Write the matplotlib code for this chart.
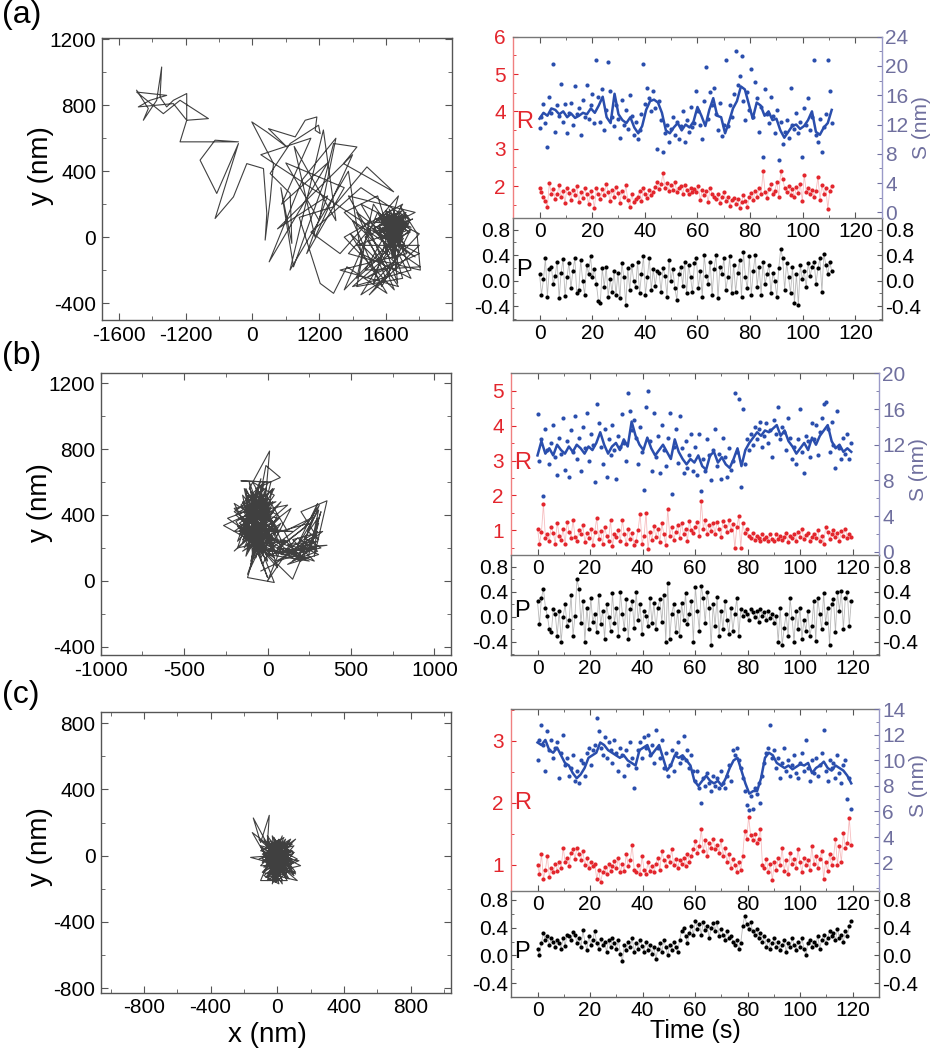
"""Single-particle tracks (left) with R, S and P time traces (right), panels (a)-(c)."""

import numpy as np
import matplotlib
matplotlib.use("Agg")
import matplotlib.pyplot as plt
from matplotlib.ticker import MultipleLocator, FormatStrFormatter

plt.rcParams["font.family"] = ["Liberation Sans", "DejaVu Sans"]
plt.rcParams["axes.unicode_minus"] = False

# ── Colours ───────────────────────────────────────────────────────────────────
RED = "#E3262D"
RED_SPINE = "#F08080"
BLUE = "#2A4EAD"
SLATE = "#6F6F9E"
SLATE_SPINE = "#9A9AC8"
TRACK = "#1e1e1e"

# ── (a) data ──────────────────────────────────────────────────────────────────
TRACK_A_X = [-1388, -1248, -1308, -1148, -1088, -1108, -1028, -948, -788, -788, -528, -868, -1068, -1388,
             -1028, -1228, -1368, -948, -788, -868, -728, -168, -448, -628, -428, -168, -448, -228, -68,
             132, 172, 152, 212, 252, -8, 172, 412, 192, 512, 632, 772, 752, 812, 792, 452, 212, 452, 472,
             340, 492, 852, 972, 1252, 1092, 1692, 1372, 972, 560, 812, 972, 1132, 1612, 1172, 1492, 2012,
             1972, 1772, 1892, 1300, 700, 1050, 1400, 1250, 1800, 1500, 1100, 1700, 1350, 2000, 1600,
             100, 700, 350, 900, 200, 600, 1000, 800, 400, 1100, 650, 900, 300, 1200, 750, 500, 1000, 850,
             450, 1150,
             1300, 1900, 1500, 1100, 1800, 1250, 2000, 1400, 1650, 1150, 1950, 1350, 1750, 1050, 1850,
             1450, 1250, 1900, 1550, 1200, 2010, 1350, 1800, 1100, 1700, 1400, 1950, 1250, 1600, 1300,
             1850, 1500, 1150, 1750, 1450, 2000, 1300, 1650, 1200, 1900,
             1640, 1780, 1560, 1830, 1700, 1600, 1760, 1500, 1720, 1650, 1880, 1620, 1790, 1540, 1710,
             1820, 1580, 1690, 1460, 1760, 1680, 1640, 1800, 1570, 1730, 1920, 1620, 1700, 1530, 1780,
             1660, 1840, 1590, 1720, 1650, 1890, 1610, 1750, 1480, 1700, 1810, 1630, 1770, 1720, 1690,
             1580, 1860, 1660, 1740, 1520, 1740, 1680,
             1610, 1740, 1560, 1800, 1650, 1510, 1770, 1690, 1590, 1850, 1630, 1720, 1550, 1790, 1670,
             1440, 1750, 1700, 1600, 1870, 1570, 1730, 1650, 1810, 1530, 1690, 1780, 1620, 1480, 1840,
             1680, 1580, 1750, 1660, 1830, 1540, 1700, 1610, 1790, 1650, 1720, 1560, 1900, 1690, 1620,
             1760, 1520, 1810, 1670, 1700]
TRACK_A_Y = [891, 780, 709, 830, 1032, 850, 790, 830, 871, 709, 719, 830, 749, 880,
             860, 830, 790, 810, 709, 578, 578, 578, 588, 467, 265, 568, 113, 244, 446,
             416, 143, -18, 224, 446, 699, 638, 547, 658, 608, 709, 729, 648, 628, 679, 568, 386, 265, -38,
             300, -180, 325, 568, 547, 446, 275, 426, 184, 120, -281, -341, -180, -341, 22, -139, -200,
             22, 184, 103, 300, 30, -100, 100, -300, -250, 250, 150, -150, -250, -100, 0,
             500, 600, 200, 450, -150, 350, 600, 100, 450, 300, -100, 250, 50, 500, 0, 550, 100, 650,
             -200, 400,
             -100, -250, 150, -320, 50, -50, -50, -350, -200, 250, 150, 0, -300, -200, -100,
             200, -250, 50, -300, 100, -180, -200, 200, 0, -320, 50, -120, 150, -250, -350,
             100, -150, -100, 250, -280, 20, 200, -100, -300, -200,
             120, 40, 80, 130, -20, 150, 60, 20, 110, -60, 90, 30, 160, 100, 0,
             -40, 60, 140, 90, 80, -100, 170, 20, -10, 70, 110, 40, -60, 130, 100,
             10, 150, 70, -120, 90, 30, -30, 120, 60, 30, -80, 100, -20, -200, 50,
             110, 70, -40, 90, 40, -280, 20,
             80, 20, 130, 110, -30, 70, 150, 60, -10, 40, 140, -70, 100, 70, -80,
             50, 130, 0, 160, 80, 30, 100, -50, -10, 120, 170, 10, 60, 110, 120,
             -130, 90, 50, 130, -60, 40, 80, -70, 140, 20, -160, 60, 60, 110, -10,
             -90, 70, 90, 40, -30]

S_A = [11.5, 13.0, 14.8, 12.2, 9.0, 15.8, 13.6, 20.2, 11.0, 14.6,
       13.2, 17.6, 12.4, 14.8, 10.8, 13.6, 15.0, 12.0, 17.2, 13.4,
       14.2, 10.6, 15.4, 13.0, 17.4, 12.8, 14.6, 16.2, 12.2, 20.8,
       15.8, 12.4, 16.8, 11.2, 14.0, 20.6, 16.6, 13.0, 11.8, 14.6,
       12.8, 10.2, 15.4, 12.0, 14.0, 11.4, 16.0, 13.2, 10.6, 12.4,
       10.0, 11.2, 13.4, 20.2, 14.8, 17.0, 15.6, 13.8, 16.6, 14.2,
       8.6, 15.2, 12.6, 8.2, 10.8, 12.0, 9.6, 11.4, 13.0, 10.6,
       12.4, 10.0, 11.8, 13.8, 9.6, 12.6, 11.0, 14.4, 11.6, 12.2,
       16.6, 13.8, 12.0, 10.0, 15.2, 19.8, 12.8, 16.4, 14.6, 17.0,
       13.4, 11.2, 15.0, 10.4, 12.0, 20.8, 11.8, 14.6, 13.0, 16.2,
       22.0, 17.4, 18.6, 21.4, 15.2, 12.6, 16.4, 14.0, 19.6, 13.0,
       17.8, 15.6, 11.0, 14.4, 7.6, 16.8, 13.4, 12.2, 15.8, 13.2,
       10.8, 14.0, 7.2, 12.4, 9.4, 11.0, 12.6, 10.2, 17.0, 12.0,
       11.4, 13.6, 10.8, 12.4, 7.6, 14.2, 12.0, 15.6, 11.2, 13.0,
       20.8, 10.6, 9.6, 12.8, 8.2, 11.6, 13.4, 20.8, 16.6, 12.2]
S_LINE_A = [12.8, 13.6, 13.2, 14.2, 14.0, 13.4, 13.8, 13.0, 13.5, 12.9, 13.2, 13.6, 13.4, 14.2, 13.6,
            14.6, 15.8, 13.0, 12.2, 16.2, 13.4, 12.6, 12.2, 13.0, 11.6, 10.8, 11.8, 14.0, 15.2, 15.4,
            15.0, 13.6, 11.2, 10.8, 11.6, 12.2, 11.2, 12.0, 11.6, 12.4, 14.4, 13.2, 11.8, 14.0, 15.6,
            13.2, 13.0, 10.8, 12.4, 14.2, 15.2, 17.2, 16.8, 14.8, 12.8, 15.0, 14.6, 13.2, 13.8, 12.6,
            12.8, 11.2, 10.2, 11.0, 11.8, 12.0, 11.4, 11.8, 12.6, 13.8, 11.0, 10.6, 11.6, 12.2, 14.0]
R_A = [1.95, 1.85, 1.72, 1.60, 1.45, 2.08, 1.80, 1.92, 1.65, 1.78,
       2.02, 1.70, 1.88, 1.55, 1.95, 1.82, 1.62, 1.90, 1.75, 2.00,
       1.58, 1.85, 1.68, 1.94, 1.78, 1.52, 1.88, 1.72, 1.42, 1.96,
       1.80, 1.65, 1.92, 1.75, 2.05, 1.85, 1.60, 1.90, 1.72, 1.98,
       1.82, 1.55, 1.88, 1.70, 2.02, 1.64, 1.45, 1.78, 1.58, 1.66,
       1.72, 1.86, 1.60, 1.95, 1.78, 1.68, 1.90, 1.75, 1.85, 1.98,
       2.10, 1.92, 2.05, 2.35, 1.95, 2.08, 1.88, 2.02, 1.90, 2.12,
       1.85, 1.95, 2.00, 1.80, 2.04, 1.90, 1.78, 1.96, 1.84, 1.92,
       1.84, 2.00, 1.62, 1.90, 1.75, 1.86, 1.58, 1.95, 1.80, 1.70,
       1.65, 1.78, 1.55, 1.70, 1.85, 1.60, 1.72, 1.48, 1.62, 1.68,
       1.52, 1.66, 1.42, 1.58, 1.75, 1.60, 1.45, 1.70, 1.82, 1.64,
       1.88, 1.72, 1.96, 1.78, 2.40, 1.85, 1.68, 1.92, 2.05, 1.78,
       1.88, 2.10, 1.72, 2.40, 2.20, 1.95, 1.85, 2.00, 1.76, 1.92,
       1.70, 1.98, 1.82, 2.05, 1.60, 2.30, 1.85, 1.95, 1.78, 1.90,
       1.72, 1.88, 2.25, 1.64, 2.02, 1.80, 1.94, 1.40, 1.86, 2.00]
P_A = [0.10, -0.22, 0.02, 0.35, -0.25, 0.18, 0.22, -0.05, 0.08, 0.30,
       -0.28, 0.12, 0.34, -0.24, 0.05, 0.28, -0.12, 0.15, 0.35, -0.20,
       -0.15, 0.32, 0.00, -0.22, 0.25, 0.10, 0.38, 0.05, 0.18, -0.05,
       -0.32, -0.35, 0.20, -0.10, 0.22, -0.25, 0.02, -0.18, 0.15, -0.22,
       0.12, -0.28, 0.28, 0.05, -0.38, 0.20, -0.15, 0.25, 0.00, -0.10,
       0.30, -0.20, 0.10, 0.38, -0.22, 0.05, 0.35, -0.15, 0.18, -0.08,
       0.15, 0.12, -0.18, 0.20, 0.08, -0.25, 0.32, 0.00, 0.18, -0.12,
       -0.30, 0.10, 0.22, -0.08, 0.30, -0.20, 0.25, 0.05, -0.18, 0.28,
       0.35, -0.12, 0.15, -0.25, 0.40, 0.08, -0.05, 0.30, -0.22, 0.18,
       0.40, -0.28, 0.22, 0.10, 0.35, -0.15, 0.05, 0.38, -0.20, 0.25,
       -0.18, 0.12, 0.32, -0.25, 0.45, 0.05, -0.12, 0.38, -0.22, 0.15,
       0.40, -0.10, 0.22, -0.22, 0.30, -0.05, 0.10, 0.25, -0.20, 0.12,
       0.00, -0.25, 0.20, 0.50, 0.35, -0.15, 0.28, 0.05, -0.20, 0.22,
       -0.35, 0.10, -0.38, 0.25, 0.02, 0.15, -0.10, 0.28, 0.08, 0.22,
       0.30, -0.05, 0.20, 0.35, -0.18, 0.42, 0.25, 0.10, 0.30, 0.15]
T_END_A = 111.0

# ── (b) data ──────────────────────────────────────────────────────────────────
TRACK_B_X = [-60, -120, -20, -150, 40, -90, 10, -180, -40, 60, -130, -10, -200, 30, -100, 20, -160, 0,
             -70, 80, -140, -30, -240, -60, 40, -110, 12, -20, -170, 90, -50, -130, 0, -200, 120, -80,
             -264, -20, -150, 60, -100, -40, -180, 30, -120, 0, -70, 76, -10, -60, -160, 20, -90, 140,
             -30, -140, 40, -110, 0, -60, -200, 60, -80, -20, -120, 100, -40, -170, 10, -90, -130, 30,
             -60, -100, -20, 120, -150, 0, 60, -30, -120, 40, -80, 150, 80, 0, 100, 200, -40, 150, 220,
             60, 250, 0, 280, 120, 306, 180, 300, 240, 306, 200, 356, 280, 300, 220, 320, 150, 306, 260,
             356, 100, 300, 200, 0, -100, 250, 50, -60, 150, -120, 40, -80, 120, -20, -150, 80, -50,
             -100, -30, -170, 20, -140, -60, 10, -190, -80, 40, -120, -20, -160, 0, -100, 60, -200, -40,
             -130, 30, -70, -150, 10, -90, -180, 50, -50, -120, -10, -160, 20, -80, -140, 40, -30, -110,
             -60, 0, -170, 70, -90, -130, 30, -40, -190, -20, -100, 80, -60, -150, 10, -80, -120, -30,
             -200, 50, -70, -140, 0, -50,
             100, 200, 50, 260, 150, 300, 180, 80, 240, 306, 270, 320, 250, 120, 300, 200, 330, 150,
             280, 60, 220, 310, 180, 100, 260, 0, 140, 290, 40, -40]
TRACK_B_Y = [380, 450, 300, 250, 520, 600, 420, 330, 180, 400, 500, 560, 420, 260, 120, 600, 607, 600,
             330, 480, 200, 460, 380, 250, 340, 560, 788, 420, 300, 230, 520, 150, 380, 181, 460, 420,
             336, 200, 480, 150, 350, 620, 240, 480, 40, 300, 560, 627, 700, 440, 380, 160, 260, 440,
             100, 420, 560, 300, 20, 190, 470, 300, 500, 380, 220, 160, 280, 350, 470, 160, 560, 220,
             400, 100, 540, 300, 320, 150, 80, 350, 20, -10, 300, 200, 120, 0, 250, 150, 200, 10, 180,
             200, 120, 160, 200, 100, 160, 220, 470, 300, 250, 420, 486, 150, 380, 260, 200, 160, 430, 210,
             216, 180, 300, 120, 200, 250, 350, 180, 320, 300, 300, 140, 220, 240, 260, 180, 350, 150,
             420, 520, 280, 350, 560, 200, 480, 400, 300, 430, 180, 600, 460, 250, 540, 320, 300, 420,
             360, 560, 140, 520, 320, 470, 200, 250, 580, 400, 180, 330, 440, 520, 260, 200, 380, 600,
             280, 500, 420, 380, 220, 480, 300, 140, 360, 460, 320, 200, 560, 230, 400, 380, 520, 240,
             440, 480, 420, 300, 120, 340,
             200, 160, 120, 230, 120, 180, 260, 160, 140, 350, 260, 420, 180, 220, 240, 200, 300, 250,
             120, 200, 320, 460, 140, 300, 380, 180, 180, 280, 100, 60]

S_B = [15.4, 10.2, 12.6, 6.2, 13.8, 11.4, 9.8, 12.2, 14.2, 10.6,
       8.6, 12.8, 11.0, 15.0, 9.2, 12.4, 8.4, 13.6, 11.2, 15.2,
       10.4, 12.8, 9.0, 14.0, 11.6, 15.6, 10.2, 13.2, 12.0, 7.8,
       16.6, 14.4, 11.8, 9.8, 13.8, 8.4, 12.6, 10.8, 14.2, 11.4,
       8.2, 13.0, 11.8, 15.4, 12.2, 10.2, 17.8, 15.8, 13.6, 14.8,
       12.8, 9.8, 14.0, 11.2, 6.9, 16.2, 18.0, 12.4, 9.0, 15.6,
       10.6, 13.0, 8.8, 14.2, 11.4, 9.6, 12.8, 15.6, 6.5, 11.8,
       13.8, 10.0, 15.2, 11.6, 8.8, 12.4, 9.4, 10.8, 13.2, 9.0,
       11.8, 8.6, 13.2, 6.8, 10.4, 9.0, 12.6, 10.8, 8.0, 11.4,
       13.8, 9.6, 11.0, 8.2, 12.8, 10.6, 8.4, 11.6, 9.2, 10.2,
       17.8, 11.2, 17.1, 7.3, 16.0, 9.8, 12.6, 11.4, 13.2, 12.0,
       14.0, 12.6, 13.8, 14.6, 11.8, 13.0, 14.4, 12.2, 13.6, 10.6,
       14.8, 13.2, 16.2, 12.6, 14.0, 13.4, 11.4, 15.0, 12.8, 10.4,
       11.8, 9.8, 12.6, 16.0, 11.2, 8.8, 13.0, 12.4, 10.6, 14.4,
       12.6, 14.2, 10.8, 13.4, 15.0, 16.6, 16.8, 13.8, 11.2, 14.6,
       12.0, 9.4, 15.8, 11.6, 10.4, 12.8, 11.0, 13.2, 10.4, 12.2]
S_LINE_B = [10.8, 12.4, 11.0, 11.6, 10.8, 12.0, 11.4, 11.0, 11.8, 11.2, 12.0, 11.6, 11.0, 11.8, 11.4,
            12.2, 13.4, 12.0, 11.0, 11.8, 12.2, 11.4, 12.6, 11.8, 14.6, 13.0, 12.0, 11.4, 12.8, 11.6,
            10.8, 11.4, 12.0, 11.2, 10.4, 12.6, 11.2, 10.4, 9.8, 10.4, 10.0, 10.8, 9.6, 9.2, 10.8,
            11.2, 10.0, 10.6, 9.8, 9.4, 10.4, 11.6, 9.6, 11.4, 12.2, 12.8, 13.4, 13.0, 13.6, 13.4,
            13.8, 14.2, 13.0, 13.6, 12.4, 11.8, 11.0, 11.6, 12.2, 11.4, 12.8, 12.0, 13.0, 13.6, 14.2,
            12.4, 11.6, 12.0, 11.2, 11.6, 11.2]
R_B = [1.05, 0.62, 0.95, 1.75, 0.78, 0.88, 0.70, 1.10, 0.92, 0.62,
       1.22, 0.85, 0.72, 1.05, 0.60, 1.25, 0.95, 0.78, 1.30, 0.82,
       0.70, 1.00, 0.88, 1.15, 0.65, 0.92, 0.78, 1.05, 0.58, 0.95,
       1.35, 0.75, 0.98, 0.62, 1.10, 0.85, 0.70, 1.30, 0.55, 0.90,
       0.82, 1.02, 0.68, 1.30, 0.88, 0.60, 1.05, 0.75, 0.92, 0.58,
       0.70, 1.02, 1.48, 0.62, 0.85, 1.50, 0.45, 0.95, 0.72, 1.12,
       0.80, 1.05, 0.65, 1.20, 0.90, 0.58, 1.62, 0.85, 1.10, 0.72,
       0.95, 1.15, 0.78, 1.22, 0.88, 1.05, 0.70, 1.28, 1.00, 0.92,
       1.10, 1.25, 0.85, 1.85, 1.05, 1.30, 0.88, 1.15, 0.98, 1.20,
       0.90, 1.25, 1.05, 0.82, 1.28, 1.12, 0.95, 1.30, 1.02, 1.18,
       0.48, 1.10, 1.40, 0.50, 1.20, 0.92, 1.05, 0.85, 0.78, 0.92,
       0.72, 0.85, 0.78, 0.68, 0.90, 0.75, 0.82, 0.70, 0.88, 0.76,
       0.68, 0.90, 0.75, 0.85, 0.72, 0.80, 0.92, 0.66, 0.85, 0.78,
       0.88, 0.70, 0.95, 0.82, 1.05, 0.74, 0.86, 0.92, 0.68, 0.80,
       0.90, 0.78, 1.02, 0.70, 0.85, 0.62, 1.08, 0.95, 0.75, 0.88,
       1.02, 0.80, 0.92, 0.70, 0.98, 0.85, 1.05, 0.78, 0.90, 0.82]
P_B = [0.25, -0.12, 0.30, 0.45, 0.15, 0.02, -0.20, -0.25, 0.12, 0.05,
       -0.30, 0.10, -0.40, 0.00, 0.20, -0.15, -0.05, 0.35, -0.30, 0.02,
       0.60, 0.45, -0.10, 0.25, -0.40, 0.15, -0.20, 0.30, -0.08, 0.05,
       -0.25, 0.35, -0.12, 0.10, -0.35, 0.20, 0.00, -0.22, 0.38, -0.10,
       0.15, -0.30, 0.40, 0.05, -0.20, 0.28, -0.35, 0.12, 0.25, -0.18,
       0.40, -0.05, 0.20, -0.28, 0.10, 0.02, -0.15, 0.30, -0.10, 0.22,
       -0.20, 0.15, 0.28, -0.08, 0.35, -0.40, 0.55, -0.35, 0.05, 0.20,
       -0.25, 0.10, -0.30, 0.22, -0.05, 0.38, -0.12, 0.05, 0.25, -0.40,
       0.48, 0.10, -0.22, 0.50, 0.30, -0.10, 0.40, 0.15, -0.45, 0.20,
       -0.15, 0.32, -0.30, 0.10, -0.20, 0.25, -0.05, -0.28, 0.15, -0.22,
       0.05, 0.30, -0.30, 0.12, 0.02, 0.10, 0.05, -0.05, 0.12, 0.08,
       0.00, 0.10, -0.08, 0.12, 0.02, 0.08, -0.05, 0.10, -0.02, 0.05,
       -0.10, 0.02, -0.40, 0.15, -0.45, -0.18, 0.05, -0.30, 0.30, -0.02,
       -0.40, 0.10, -0.20, 0.15, -0.35, -0.05, -0.22, 0.10, -0.30, -0.15,
       0.25, -0.38, 0.30, 0.05, -0.20, 0.38, -0.10, 0.15, -0.45, 0.20,
       0.28, -0.25, 0.40, 0.10, 0.42, -0.20, 0.30, 0.40, -0.15, 0.25]
T_END_B = 119.5

# ── (c) data ──────────────────────────────────────────────────────────────────
TRACK_C_X = [-20, -80, 10, -60, 40, -40, 60, -100, 0, -30, 80, -150, -70, 30, -144, -100, -48, -60, 20,
             -90, 50, -20, 100, -50, 10, -80, 40, -30, 120, -10, 70, -110, 0, -40, 90, -60, 20, -20, 110,
             -70, 30, -10, 60, -100, 0, -50, 80, -160, 20, -30, 50, -80, 10, -40, 130, -20, 40, -60, 90,
             0, -30, 60, -90, 20, -10, 100, -50, 30, -70, 10, 140, -40, 0, -20, 70, -110, 20, -30, 50,
             -60, 10, 110, -80, 0, -20, 40, -40, 80, -10, 20, -70, 60, -30, 0, 100, -50, 30, -20, 120,
             -90, 10, -10,
             -10, 40, -50, 20, -70, 60, -30, 10, -60, 50, -20, 80, -90, 0, 30, -40, 70, -80, 10, -30,
             100, -60, 20, -10, 60, -100, 40, -50, 0, 90, -70, 30, -20, 50, -40, 110, -90, 10, -30, 70,
             -60, 0, 40, -80, 20, -10, 60, -50, 30, -20, 90, -70, 10, -40, 50, -100, 0, 70, -30, 20,
             -60, 40, -10, 80, -80, 30, -20, 100, -50, 0]
TRACK_C_Y = [40, 100, -60, -20, 80, -120, 20, 60, -150, 120, -40, 140, 0, -100, 228, 80, 244, 60, 0,
             -40, 100, -80, 60, 20, -170, -120, -20, 60, -20, -100, 40, -20, 30, -60, -80, 120, -130, 10, 100,
             -80, 50, -40, -150, -150, 90, -30, 10, -10, -60, -140, -30, 40, 60, -100, -30, 0, -90, -60, 30,
             -20, -170, 70, 10, -40, 80, -120, -10, -10, 90, -90, -60, 30, -130, -50, -60, 100, 20, -20, -110,
             -130, 40, -100, -60, -70, 100, 0, -80, -80, -160, 80, -30, -10, 20, -110, 20, 50, -150, -30, -150,
             -100, 10, -60,
             30, -50, 60, -100, -40, 40, -90, 70, 0, -130, 110, -60, 50, -140, 30, -20, 90, -100, -30, 80,
             -40, -150, 50, -110, -10, 30, 110, -60, 0, 70, 70, -80, -160, 20, 40, -110, -20, 100, -40, -140,
             100, -70, 60, -70, -10, 60, -100, -110, 120, 0, -20, -130, -50, 90, -70, -60, 40, 10, -120, 90,
             30, -30, -80, 100, 0, -170, 70, 20, -80, -20]

S_C = [10.0, 11.6, 12.8, 11.2, 9.2, 12.3, 10.8, 11.6, 10.2, 11.0,
       11.4, 8.6, 10.6, 12.0, 9.6, 10.2, 8.8, 9.4, 10.4, 8.4,
       9.2, 8.2, 10.0, 9.8, 8.8, 10.6, 11.0, 9.6, 10.8, 11.2,
       13.3, 12.3, 11.0, 10.4, 11.8, 10.2, 11.4, 10.8, 9.8, 11.6,
       10.6, 9.2, 11.0, 10.4, 8.8, 10.8, 9.6, 11.4, 10.2, 7.8,
       9.4, 10.8, 11.4, 10.2, 11.8, 11.0, 12.0, 10.4, 11.2, 9.8,
       12.4, 11.0, 10.2, 11.6, 9.4, 10.6, 8.8, 9.6, 10.8, 9.2,
       10.6, 11.4, 9.8, 10.2, 11.9, 10.0, 10.8, 9.4, 10.4, 9.2,
       8.4, 9.2, 7.8, 6.7, 8.6, 8.0, 9.0, 8.2, 7.6, 8.8,
       8.0, 8.6, 7.8, 9.2, 8.2, 7.8, 8.8, 9.6, 8.4, 10.8,
       10.4, 11.0, 10.0, 9.4, 8.6, 7.6, 6.5, 6.1, 7.2, 6.2,
       7.8, 7.4, 8.2, 6.7, 8.8, 9.8, 10.6, 11.0, 12.8, 10.2,
       10.8, 9.4, 10.2, 8.6, 9.8, 11.0, 9.2, 10.0, 8.8, 9.6,
       10.4, 9.0, 8.6, 9.8, 10.6, 9.2, 11.6, 9.4, 8.4, 10.0,
       9.0, 10.2, 8.8, 9.6, 10.6, 12.4, 9.2, 8.4, 10.0, 9.4,
       9.8, 8.6, 10.4, 9.0, 8.2, 9.6, 10.0, 7.0, 8.6, 6.2]
S_LINE_C = [11.4, 11.2, 11.6, 10.8, 10.6, 11.0, 10.4, 9.8, 9.6, 9.0, 8.6, 8.9, 9.4, 10.2, 10.4,
            10.6, 11.4, 11.2, 10.8, 10.6, 10.4, 10.2, 10.4, 10.0, 9.8, 9.6, 10.8, 11.0, 11.2, 10.4,
            10.8, 11.2, 10.2, 9.2, 9.6, 10.4, 10.2, 10.4, 10.0, 9.6, 8.4, 8.0, 8.4, 8.8, 8.4,
            8.2, 8.4, 8.0, 8.6, 9.4, 10.0, 10.2, 9.2, 8.2, 7.4, 7.6, 7.6, 8.6, 10.2, 10.6,
            10.4, 9.8, 9.6, 9.4, 9.6, 9.3, 9.5, 9.7, 9.6, 9.8, 9.0, 9.4, 9.6, 9.9, 9.4,
            9.2, 9.6, 9.4, 9.2, 8.8, 8.2]
R_C = [1.00, 0.85, 1.18, 0.78, 0.92, 1.15, 0.80, 0.95, 0.88, 1.02,
       0.90, 1.05, 0.95, 1.28, 1.05, 1.12, 0.98, 1.20, 1.25, 1.10,
       1.28, 1.18, 1.08, 1.22, 1.00, 1.12, 0.95, 1.05, 0.98, 1.02,
       0.78, 0.92, 0.72, 0.88, 0.96, 0.85, 1.02, 0.90, 0.98, 1.06,
       0.95, 1.12, 0.88, 1.02, 0.90, 1.18, 0.98, 1.08, 1.32, 0.92,
       0.88, 1.00, 0.85, 1.15, 0.92, 0.86, 1.05, 0.90, 0.98, 0.88,
       1.02, 1.12, 0.92, 1.22, 1.08, 0.98, 1.15, 1.05, 1.25, 1.00,
       1.10, 0.95, 1.08, 1.02, 1.12, 0.98, 1.18, 1.05, 1.15, 1.25,
       1.38, 1.20, 1.30, 1.58, 1.22, 1.40, 1.15, 1.35, 1.28, 1.42,
       1.25, 1.32, 1.20, 1.40, 1.15, 1.28, 1.05, 1.18, 0.95, 1.10,
       1.00, 0.88, 1.05, 0.92, 1.15, 1.55, 1.42, 1.78, 1.48, 1.40,
       1.50, 1.35, 1.42, 1.58, 1.00, 0.95, 1.10, 0.88, 1.02, 0.75,
       1.05, 0.92, 1.12, 1.00, 1.28, 0.90, 1.08, 0.85, 1.20, 1.02,
       1.10, 0.95, 1.25, 1.05, 0.88, 1.12, 1.00, 1.08, 0.92, 1.30,
       1.02, 1.15, 0.95, 1.10, 1.22, 0.78, 1.05, 0.90, 1.18, 1.00,
       1.12, 1.42, 1.00, 1.30, 1.05, 1.52, 1.28, 1.35, 1.75, 1.32]
P_C = [0.10, 0.00, 0.18, 0.32, 0.22, 0.28, 0.15, 0.25, 0.20, 0.12,
       0.22, 0.18, 0.10, 0.25, 0.14, 0.30, 0.28, 0.22, 0.34, 0.30,
       0.18, 0.25, 0.12, 0.36, 0.20, 0.08, 0.28, 0.15, 0.22, 0.35,
       0.18, 0.10, 0.24, 0.15, 0.20, 0.05, 0.22, 0.12, 0.25, 0.18,
       0.10, 0.22, 0.02, -0.08, 0.15, 0.08, 0.20, 0.12, 0.25, 0.05,
       0.18, 0.10, 0.22, 0.14, 0.05, 0.20, 0.08, 0.15, 0.02, 0.12,
       -0.05, 0.10, 0.18, 0.05, 0.22, 0.12, 0.00, 0.15, 0.08, 0.20,
       0.12, 0.05, 0.22, 0.35, 0.40, 0.28, 0.18, 0.32, 0.42, 0.30,
       0.50, 0.38, 0.45, 0.30, 0.48, 0.36, 0.42, 0.25, 0.40, 0.46,
       0.35, 0.48, 0.28, 0.38, 0.30, 0.22, 0.35, 0.25, 0.28, 0.20,
       0.15, 0.22, 0.10, 0.18, 0.42, 0.57, 0.45, 0.38, 0.48, 0.35,
       0.30, 0.38, 0.25, 0.32, 0.20, 0.28, 0.12, 0.22, 0.10, 0.18,
       0.25, 0.12, 0.20, 0.08, 0.15, 0.22, 0.05, 0.18, 0.12, 0.25,
       0.15, 0.08, 0.20, 0.12, 0.25, 0.10, 0.00, 0.18, 0.22, 0.12,
       0.20, 0.15, 0.28, 0.10, 0.22, 0.30, 0.18, 0.25, 0.35, 0.28,
       0.32, 0.22, 0.38, 0.25, 0.30, 0.20, 0.35, 0.28, 0.42, 0.50]
T_END_C = 119.5

TICK_FS = 15


def style_box(ax, color="#555555"):
    for sp in ax.spines.values():
        sp.set_color(color)
        sp.set_linewidth(1.0)


def draw_track(ax, xs, ys, xlim, ylim, xticks, xminor, yticks, yminor, xticklabels=None, ylabel_y=0.53):
    ax.plot(xs, ys, color=TRACK, lw=0.8, alpha=0.85)
    ax.set_xlim(xlim)
    ax.set_ylim(ylim)
    ax.set_xticks(xticks)
    if xticklabels is not None:
        ax.set_xticklabels(xticklabels)
    ax.set_yticks(yticks)
    ax.xaxis.set_minor_locator(MultipleLocator(xminor))
    ax.yaxis.set_minor_locator(MultipleLocator(yminor))
    ax.tick_params(which="both", direction="in", top=True, right=True, color="#555555")
    ax.tick_params(which="major", length=5, labelsize=TICK_FS, pad=4)
    ax.tick_params(which="minor", length=3)
    ax.set_ylabel("y (nm)", fontsize=20)
    ax.yaxis.set_label_coords(-0.137, ylabel_y)
    style_box(ax)


def draw_traces(fig, rect_top, rect_p, t_end, s_dots, s_line, r_dots, p_dots,
                rlim, slim, plim, rticks, sticks, r_y, p_y, s_label_y):
    ax_p = fig.add_axes(rect_p)
    ax_p.patch.set_visible(False)
    ax_r = fig.add_axes(rect_top)
    ax_s = ax_r.twinx()

    t_s = np.linspace(0, t_end, len(s_dots))
    t_sl = np.linspace(0, t_end, len(s_line))
    t_r = np.linspace(0, t_end, len(r_dots))
    t_p = np.linspace(0, t_end, len(p_dots))

    # R (left axis, red) with faint joining line
    ax_r.plot(t_r, r_dots, color=RED, lw=0.6, alpha=0.3)
    ax_r.plot(t_r, r_dots, "o", ms=3.0, color=RED, mec="none")
    # S (right axis, blue) dots plus running average
    ax_s.plot(t_s, s_dots, "o", ms=3.0, color=BLUE, mec="none")
    ax_s.plot(t_sl, s_line, color=BLUE, lw=1.8)
    # P (lower axes, black)
    ax_p.plot(t_p, p_dots, color="#b8b8b8", lw=0.6)
    ax_p.plot(t_p, p_dots, "o", ms=3.0, color="black", mec="none")

    for ax in (ax_r, ax_p):
        ax.set_xlim(-10.2, 130.2)
        ax.xaxis.set_major_locator(MultipleLocator(20))
        ax.xaxis.set_minor_locator(MultipleLocator(10))
    ax_r.set_ylim(rlim)
    ax_s.set_ylim(slim)
    ax_p.set_ylim(plim)
    ax_r.set_yticks(rticks)
    ax_r.yaxis.set_minor_locator(MultipleLocator(0.5))
    ax_s.set_yticks(sticks)
    ax_s.yaxis.set_minor_locator(MultipleLocator(2 if sticks[1] - sticks[0] > 2 else 1))
    ax_p.set_yticks([-0.4, 0.0, 0.4, 0.8])
    ax_p.yaxis.set_minor_locator(MultipleLocator(0.2))
    ax_p.yaxis.set_major_formatter(FormatStrFormatter("%.1f"))

    ax_r.tick_params(axis="x", which="both", direction="in", top=True, bottom=True,
                     labelsize=TICK_FS, pad=3, color="#555555")
    ax_r.tick_params(axis="x", which="major", length=4)
    ax_r.tick_params(axis="x", which="minor", length=2.5)
    ax_r.tick_params(axis="y", which="both", direction="in", colors=RED, labelsize=TICK_FS, pad=5)
    ax_r.tick_params(axis="y", which="minor", length=2.5)
    ax_s.tick_params(axis="y", which="both", direction="in", colors=SLATE, labelsize=TICK_FS, pad=2)
    ax_s.tick_params(axis="y", which="minor", length=2.5)
    ax_p.tick_params(axis="both", which="both", direction="in", left=True, right=True,
                     labelleft=True, labelright=True, labelsize=TICK_FS, pad=2, color="#555555")
    ax_p.tick_params(axis="x", pad=3)
    ax_p.tick_params(which="minor", length=2.5)

    style_box(ax_r, "#777777")
    style_box(ax_p, "#666666")
    ax_r.spines["left"].set_color(RED_SPINE)
    ax_r.spines["right"].set_visible(False)
    for side in ("left", "top", "bottom"):
        ax_s.spines[side].set_visible(False)
    ax_s.spines["right"].set_color(SLATE_SPINE)
    ax_s.spines["right"].set_linewidth(1.0)
    ax_p.spines["top"].set_visible(False)

    ax_r.text(0.032, r_y, "R", transform=ax_r.transAxes, color=RED, fontsize=17,
              ha="center", va="center")
    ax_p.text(0.03, p_y, "P", transform=ax_p.transAxes, color="black", fontsize=17,
              ha="center", va="center")
    ax_s.set_ylabel("S (nm)", color=SLATE, fontsize=15)
    ax_s.yaxis.set_label_coords(1.08, s_label_y)
    return ax_p


fig = plt.figure(figsize=(9.33, 10.5), dpi=100)

# ── left: trajectories ──────────────────────────────────────────────────────
ax_a = fig.add_axes([0.109, 0.6952, 0.3755, 0.2683])
draw_track(ax_a, TRACK_A_X, TRACK_A_Y, (-1807, 2392), (-503, 1206),
           [-1600, -800, 0, 800, 1600], 400, [-400, 0, 400, 800, 1200], 200,
           xticklabels=["-1600", "-1200", "0", "1200", "1600"], ylabel_y=0.55)

ax_b = fig.add_axes([0.108, 0.3762, 0.3755, 0.2683])
draw_track(ax_b, TRACK_B_X, TRACK_B_Y, (-1000, 1100), (-450, 1260),
           [-1000, -500, 0, 500, 1000], 250, [-400, 0, 400, 800, 1200], 200, ylabel_y=0.54)

ax_c = fig.add_axes([0.1082, 0.0546, 0.3751, 0.267])
draw_track(ax_c, TRACK_C_X, TRACK_C_Y, (-1058, 1042), (-827, 866),
           [-800, -400, 0, 400, 800], 200, [-800, -400, 0, 400, 800], 200, ylabel_y=0.52)
ax_c.set_xlabel("x (nm)", fontsize=20)
ax_c.xaxis.set_label_coords(0.477, -0.104)

# ── right: R / S / P traces ─────────────────────────────────────────────────
draw_traces(fig, [0.5495, 0.7921, 0.3961, 0.1730], [0.5495, 0.6952, 0.3961, 0.0969],
            T_END_A, S_A, S_LINE_A, R_A, P_A,
            (1.14, 6.0), (-0.8, 24), (-0.62, 0.98),
            [2, 3, 4, 5, 6], [0, 4, 8, 12, 16, 20, 24], 0.532, 0.49, 0.50)

draw_traces(fig, [0.5474, 0.4714, 0.3951, 0.1730], [0.5474, 0.3762, 0.3951, 0.0952],
            T_END_B, S_B, S_LINE_B, R_B, P_B,
            (0.29, 5.5), (-0.37, 20), (-0.61, 0.99),
            [1, 2, 3, 4, 5], [0, 4, 8, 12, 16, 20], 0.508, 0.44, 0.47)

ax_pc = draw_traces(fig, [0.5474, 0.1517, 0.3951, 0.1728], [0.5474, 0.0508, 0.3951, 0.1010],
                    T_END_C, S_C, S_LINE_C, R_C, P_C,
                    (0.585, 3.51), (-0.2, 14), (-0.59, 0.93),
                    [1, 2, 3], [2, 4, 6, 8, 10, 12, 14], 0.482, 0.42, 0.58)
ax_pc.set_xlabel("Time (s)", fontsize=18)
ax_pc.xaxis.set_label_coords(0.5, -0.21)

# ── panel letters ───────────────────────────────────────────────────────────
for label, ypix in (("(a)", 0), ("(b)", 341), ("(c)", 680)):
    fig.text(0.002, 1 - ypix / 1050, label, fontsize=23, ha="left", va="top")

fig.savefig("out.png", dpi=100)
